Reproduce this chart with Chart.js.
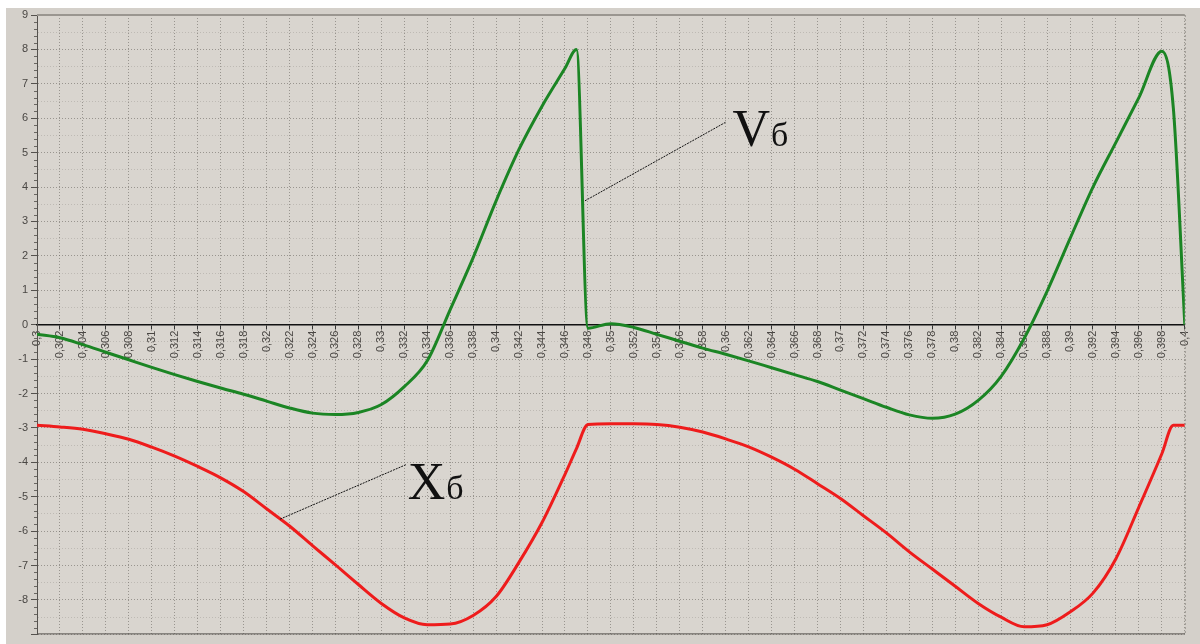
<!DOCTYPE html>
<html>
<head>
<meta charset="utf-8">
<script src="https://cdn.jsdelivr.net/npm/chart.js@4.4.0/dist/chart.umd.min.js"></script>
<style>
  html, body { margin: 0; padding: 0; background: #fff; }
  #wrap { width: 1200px; height: 644px; }
</style>
</head>
<body>
<div id="wrap"><canvas id="chart" width="1200" height="644"></canvas></div>
<script>
// time, s
const xs = [0.300, 0.302, 0.304, 0.306, 0.308, 0.310, 0.312, 0.314, 0.316, 0.318,
            0.320, 0.322, 0.324, 0.326, 0.328, 0.330, 0.332, 0.334, 0.336, 0.338,
            0.340, 0.342, 0.344, 0.346, 0.347, 0.348, 0.350, 0.352, 0.354, 0.356,
            0.358, 0.360, 0.362, 0.364, 0.366, 0.368, 0.370, 0.372, 0.374, 0.376,
            0.378, 0.380, 0.382, 0.384, 0.386, 0.388, 0.390, 0.392, 0.394, 0.396,
            0.398, 0.399, 0.400];

// Vб (green)
const vb = [-0.28, -0.38, -0.58, -0.80, -1.02, -1.24, -1.45, -1.65, -1.84, -2.02,
            -2.22, -2.42, -2.57, -2.61, -2.55, -2.32, -1.80, -1.05, 0.44, 1.95,
            3.60, 5.10, 6.35, 7.45, 8.00, -0.10, 0.03, -0.08, -0.28, -0.48,
            -0.68, -0.86, -1.05, -1.25, -1.45, -1.65, -1.90, -2.15, -2.40, -2.62,
            -2.72, -2.60, -2.20, -1.50, -0.40, 0.97, 2.50, 4.00, 5.30, 6.60,
            7.95, 6.30, 0.00];

// Xб (red)
const xb = [-2.92, -2.97, -3.04, -3.17, -3.33, -3.56, -3.82, -4.12, -4.45, -4.85,
            -5.35, -5.85, -6.42, -6.98, -7.55, -8.10, -8.52, -8.72, -8.70, -8.45,
            -7.90, -6.90, -5.75, -4.35, -3.60, -2.90, -2.88, -2.88, -2.90, -2.98,
            -3.12, -3.32, -3.55, -3.85, -4.20, -4.62, -5.05, -5.55, -6.05, -6.60,
            -7.10, -7.60, -8.10, -8.50, -8.78, -8.72, -8.35, -7.80, -6.80, -5.30,
            -3.75, -2.92, -2.92];

// callouts: name, subscript, leader line start / end, text position (data units)
const annoText = ['V', 'X'];
const annoSub = ['б', 'б'];
const annoFrom = [[0.34774, 3.6], [0.32118, -5.65]];
const annoTo = [[0.35998, 5.88], [0.3322, -4.06]];
const annoAt = [[0.3606, 5.19], [0.3323, -5.07]];

function pts(ys) {
    return xs.map((x, i) => ({ x: x, y: ys[i] }));
}

const backdrop = {
    id: 'backdrop',
    beforeDraw(chart) {
        const { ctx, chartArea: a } = chart;
        ctx.save();
        ctx.fillStyle = '#ffffff';
        ctx.fillRect(0, 0, chart.width, chart.height);
        ctx.fillStyle = '#d4d0ca';
        ctx.fillRect(6, 8, chart.width - 6, chart.height - 8);
        ctx.fillStyle = '#d9d5cf';
        ctx.fillRect(a.left, a.top, a.right - a.left, a.bottom - a.top);
        ctx.restore();
    },
    beforeDatasetsDraw(chart) {
        const { ctx, chartArea: a, scales } = chart;
        ctx.save();
        // frame
        ctx.strokeStyle = '#9a9690';
        ctx.lineWidth = 2;
        ctx.beginPath();
        ctx.moveTo(a.left, a.top);
        ctx.lineTo(a.right, a.top);
        ctx.stroke();
        ctx.lineWidth = 1;
        ctx.setLineDash([2, 2]);
        ctx.beginPath();
        ctx.moveTo(a.right + 0.5, a.top);
        ctx.lineTo(a.right + 0.5, a.bottom);
        ctx.stroke();
        ctx.setLineDash([]);
        ctx.strokeStyle = '#55524e';
        ctx.beginPath();
        ctx.moveTo(a.left, a.bottom - 0.5);
        ctx.lineTo(a.right, a.bottom - 0.5);
        ctx.stroke();
        // minor ticks on the value axis
        const y = scales.y;
        ctx.strokeStyle = '#6a6762';
        for (let k = -45; k <= 45; k++) {
            if (k % 5 === 0) continue;
            const py = Math.round(y.getPixelForValue(k / 5)) + 0.5;
            ctx.beginPath();
            ctx.moveTo(a.left - 3, py);
            ctx.lineTo(a.left, py);
            ctx.stroke();
        }
        ctx.restore();
    },
    afterDatasetsDraw(chart) {
        const { ctx, scales } = chart;
        const sx = scales.x, sy = scales.y;
        ctx.save();
        ctx.strokeStyle = '#111';
        ctx.lineWidth = 1;
        ctx.setLineDash([2, 1]);
        annoText.forEach((t, i) => {
            ctx.beginPath();
            ctx.moveTo(sx.getPixelForValue(annoFrom[i][0]), sy.getPixelForValue(annoFrom[i][1]));
            ctx.lineTo(sx.getPixelForValue(annoTo[i][0]), sy.getPixelForValue(annoTo[i][1]));
            ctx.stroke();
            const px = sx.getPixelForValue(annoAt[i][0]);
            const py = sy.getPixelForValue(annoAt[i][1]);
            ctx.fillStyle = '#111';
            ctx.textBaseline = 'alphabetic';
            ctx.textAlign = 'left';
            ctx.font = '52px "Liberation Serif", "Times New Roman", serif';
            ctx.fillText(t, px, py);
            const w = ctx.measureText(t).width;
            ctx.font = '34px "Liberation Serif", "Times New Roman", serif';
            ctx.fillText(annoSub[i], px + w + 1, py);
        });
        ctx.restore();
    }
};

new Chart(document.getElementById('chart'), {
    type: 'line',
    data: {
        datasets: [{
            label: 'Vб',
            data: pts(vb),
            borderColor: '#1b8524',
            borderWidth: 3,
            pointRadius: 0,
            cubicInterpolationMode: 'monotone'
        }, {
            label: 'Xб',
            data: pts(xb),
            borderColor: '#ee1c1c',
            borderWidth: 3,
            pointRadius: 0,
            cubicInterpolationMode: 'monotone'
        }]
    },
    options: {
        responsive: false,
        animation: false,
        layout: { padding: { top: 15, right: 11, bottom: 6, left: 0 } },
        plugins: {
            legend: { display: false },
            tooltip: { enabled: false }
        },
        scales: {
            x: {
                type: 'linear',
                position: { y: 0 },
                min: 0.3,
                max: 0.4,
                afterFit: (s) => { s.height = 0; },
                ticks: {
                    stepSize: 0.002,
                    autoSkip: false,
                    minRotation: 90,
                    maxRotation: 90,
                    padding: 2,
                    color: '#4a4744',
                    font: { family: 'Liberation Sans, Arial, sans-serif', size: 11 },
                    callback: (v) => parseFloat(Number(v).toFixed(3)).toString().replace('.', ',')
                },
                grid: {
                    color: 'rgba(110,106,100,0.6)',
                    lineWidth: 1,
                    tickLength: 4,
                    tickColor: '#333'
                },
                border: { display: true, color: '#111', width: 1.5, dash: [1, 2] }
            },
            y: {
                min: -9,
                max: 9,
                afterFit: (s) => { s.width = 37; },
                ticks: {
                    stepSize: 0.5,
                    padding: 3,
                    color: '#4a4744',
                    font: { family: 'Liberation Sans, Arial, sans-serif', size: 11 },
                    callback: (v) => (Number.isInteger(v) && v !== -9) ? String(v) : ''
                },
                grid: {
                    color: (c) => Number.isInteger(c.tick.value) ? 'rgba(110,106,100,0.6)' : 'rgba(110,106,100,0.25)',
                    tickColor: (c) => Number.isInteger(c.tick.value) ? '#55524e' : 'rgba(0,0,0,0)',
                    tickLength: 6
                },
                border: { display: true, color: '#55524e', width: 1, dash: [1, 2] }
            }
        }
    },
    plugins: [backdrop]
});
</script>
</body>
</html>
